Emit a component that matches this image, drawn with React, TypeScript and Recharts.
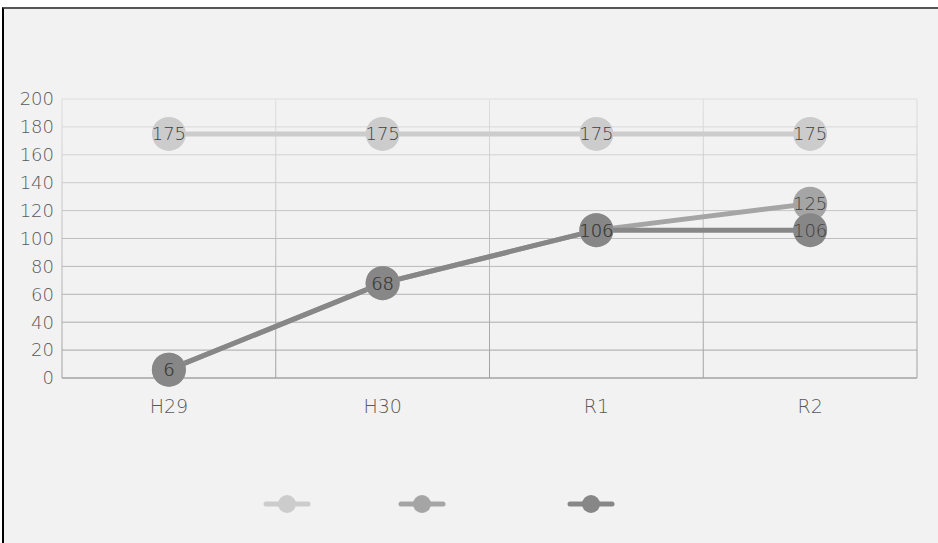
import React from 'react';
import { ComposedChart, Line, XAxis, YAxis, CartesianGrid, LabelList } from 'recharts';

const categories = ['H29', 'H30', 'R1', 'R2'];
const seriesLight = [175, 175, 175, 175];
const seriesMedium = [6, 68, 106, 125];
const seriesDark = [6, 68, 106, 106];
const yTicks = [0, 20, 40, 60, 80, 100, 120, 140, 160, 180, 200];

const seriesDefs = [
  { key: 'light', name: '系列1', color: '#cccccc' },
  { key: 'medium', name: '系列2', color: '#a5a5a5' },
  { key: 'dark', name: '系列3', color: '#878787' },
];

const data = categories.map((c, i) => ({
  cat: c,
  light: seriesLight[i],
  medium: seriesMedium[i],
  dark: seriesDark[i],
}));

const FONT = '"DejaVu Sans", sans-serif';
const legendCenters = [287, 422, 591];

const renderDot = (color: string) => (props: any) => {
  const { cx, cy, index } = props;
  if (cx == null || cy == null) return <g key={index} />;
  return <circle key={index} cx={cx} cy={cy} r={17} fill={color} stroke="none" />;
};

const LegendContent = () => (
  <svg width={938} height={24} style={{ display: 'block' }}>
    {seriesDefs.map((s, i) => {
      const cx = legendCenters[i];
      return (
        <g key={s.key}>
          <line x1={cx - 21} x2={cx + 21} y1={12} y2={12} stroke={s.color} strokeWidth={5} strokeLinecap="round" />
          <circle cx={cx} cy={12} r={9} fill={s.color} />
        </g>
      );
    })}
  </svg>
);

export default function App() {
  return (
    <div style={{ position: 'absolute', left: 0, top: 0, width: 938, height: 543, background: '#ffffff', overflow: 'hidden', fontFamily: FONT }}>
      <div
        style={{
          position: 'absolute',
          left: 2,
          top: 7,
          width: 960,
          height: 534,
          background: '#f2f2f2',
          borderLeft: '2px solid #000',
          borderTop: '2px solid #555',
          borderBottom: '1px solid #999',
        }}
      />
      <div style={{ position: 'absolute', left: 0, top: 0 }}>
        <ComposedChart
          width={938}
          height={543}
          data={data}
          margin={{ top: 99, right: 21, bottom: 135, left: 0 }}
        >
          <defs>
            <linearGradient id="gridGrad" gradientUnits="userSpaceOnUse" x1={0} y1={99} x2={0} y2={378}>
              <stop offset="0%" stopColor="#dedede" />
              <stop offset="100%" stopColor="#a0a0a0" />
            </linearGradient>
          </defs>
          <CartesianGrid
            stroke="url(#gridGrad)"
            strokeWidth={1}
            verticalCoordinatesGenerator={({ offset }: any) => {
              const n = categories.length;
              const arr: number[] = [];
              for (let i = 0; i <= n; i++) arr.push(offset.left + (offset.width * i) / n);
              return arr;
            }}
          />
          <XAxis
            dataKey="cat"
            scale="band"
            height={30}
            tickLine={false}
            axisLine={{ stroke: '#a6a6a6' }}
            tickMargin={16}
            tick={{ fill: '#595959', fontSize: 19, fontFamily: FONT, fontWeight: 200 }}
          />
          <YAxis
            width={62}
            domain={[0, 200]}
            ticks={yTicks}
            interval={0}
            tickLine={false}
            axisLine={false}
            tick={{ fill: '#595959', fontSize: 18, fontFamily: FONT, fontWeight: 200 }}
          />
          {seriesDefs.map((s) => (
            <Line
              key={s.key}
              dataKey={s.key}
              name={s.name}
              type="linear"
              stroke={s.color}
              strokeWidth={5}
              dot={renderDot(s.color)}
              activeDot={false}
              isAnimationActive={false}
            >
              <LabelList dataKey={s.key} position="center" fill="#404040" fontSize={18} fontFamily={FONT} fontWeight={200} />
            </Line>
          ))}
        </ComposedChart>
      </div>
      <div style={{ position: 'absolute', left: 0, top: 492 }}>
        <LegendContent />
      </div>
    </div>
  );
}
